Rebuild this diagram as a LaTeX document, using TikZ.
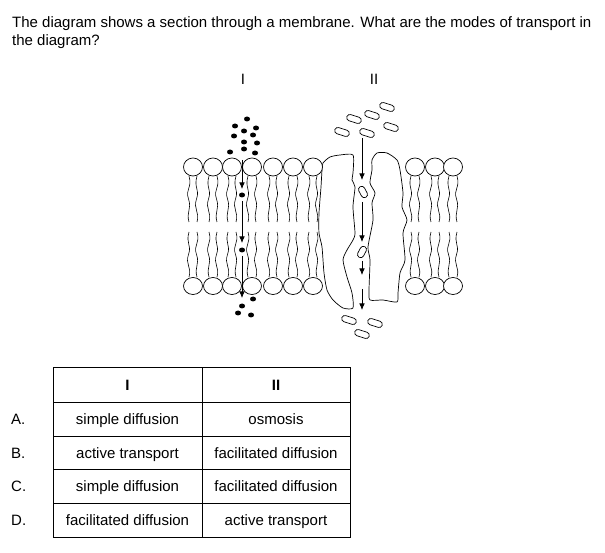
\documentclass[tikz,border=0pt]{standalone}
\usepackage{fontspec}
\setmainfont{Liberation Sans}
\usetikzlibrary{shapes.geometric, arrows.meta}
\newcommand{\qfont}{\fontsize{15}{18}\selectfont}
\tikzstyle{lipidhead} = [draw=black, fill=white, line width=0.7pt]
\tikzstyle{tail} = [draw=black, line width=0.6pt]
\tikzstyle{protein} = [draw=black, fill=white, line width=0.7pt, line join=round]
\tikzstyle{solute} = [draw=black, fill=white, line width=0.7pt, rounded corners=3.1pt]
\tikzstyle{ion} = [fill=black]
\tikzstyle{qtext} = [anchor=base west, inner sep=0pt, font=\qfont]
\tikzstyle{cell} = [anchor=base, inner sep=0pt, font=\qfont]
\tikzstyle{line} = [draw, line width=0.7pt, -{Latex[length=6.5pt,width=5.5pt]}]
% x, top, bottom, wiggle sign
\newcommand{\lipidtail}[4]{%
  \draw[tail] (#1,#2) .. controls +(#4*3.5,12) and +(-#4*3.5,-10) .. (#1-0.5,{(#2+#3)/2})
    .. controls +(#4*3.5,10) and +(-#4*3,-10) .. (#1,#3);}
% x, y, clockwise tilt, half length
\newcommand{\molecule}[4]{%
  \draw[solute, shift={(#1,#2)}, rotate=-#3] (-#4,-3.2) rectangle (#4,3.2);}

\begin{document}
\begin{tikzpicture}[x=1pt, y=-1pt]
  \useasboundingbox (0,0) rectangle (605,553);
  % question
  \node [qtext] (q1) at (12,28)
   {The diagram shows a section through a membrane. What are the modes of transport in};
  \node [qtext] (q2) at (12,46) {the diagram?};
  \node [cell] (lI) at (243,85) {I};
  \node [cell] (lII) at (374,85) {II};
  %
  % lipid tails
  \foreach \x/\s in {193/1,213/-1,232/1,252/-1,273/1,293/-1,313/1,415/-1,435/1,453/-1} {
    \lipidtail{\x-4}{176}{222}{\s}
    \lipidtail{\x+4}{176}{222}{-\s}
    \lipidtail{\x-4}{232}{277}{-\s}
    \lipidtail{\x+4}{232}{277}{\s}
  }
  % channel proteins
  \draw [protein] plot [smooth cycle, tension=0.4] coordinates {
    (323,163) (330,157) (340,155) (353,155) (353,173) (352,180) (355,187)
    (353,207) (355,233) (353,240) (347,250) (343,260) (347,277) (352,293)
    (353,308) (343,308) (333,300) (327,290) (324,273) (322,247) (319,233)
    (319,213) (321,187) (322,170)};
  \draw [protein] plot [smooth cycle, tension=0.4] coordinates {
    (372,160) (377,153) (387,153) (397,160) (400,170) (403,193) (402,207)
    (407,220) (403,233) (405,260) (400,273) (398,293) (397,302) (383,300)
    (370,300) (369,290) (370,260) (368,247) (373,220) (372,203) (375,193)
    (370,183) (372,170)};
  % lipid heads
  \foreach \x in {193,213,232,252,273,293,313,415,435,453} {
    \draw [lipidhead] (\x,167) ellipse (9.5 and 9);
    \draw [lipidhead] (\x,286) ellipse (9.5 and 8.5);
  }
  %
  % I: small particles
  \foreach \p in {(247,119),(235,126),(256,128),(244,131),(234,136),(253,135),
    (244,142),(257,143),(230,152),(244,149),(255,153),(242,195),(242,250),
    (253,299),(242,306),(238,313),(251,315)}
    \fill [ion] \p ellipse (3 and 2.5);
  \coordinate (i1) at (242,160);
  \coordinate (i2) at (242,189);
  \coordinate (i3) at (242,201);
  \coordinate (i4) at (242,243);
  \coordinate (i5) at (242,256);
  \coordinate (i6) at (242,298);
  \path [line] (i1) -- (i2);
  \path [line] (i3) -- (i4);
  \path [line] (i5) -- (i6);
  %
  % II: molecules through the channel
  \molecule{342}{132}{18}{7.5}
  \molecule{354}{119}{18}{7.5}
  \molecule{372}{115}{18}{7.5}
  \molecule{387}{107}{18}{7.5}
  \molecule{367}{133}{18}{7.5}
  \molecule{391}{127}{18}{7.5}
  \molecule{363}{192}{62}{6}
  \molecule{362}{252}{-62}{6}
  \molecule{349}{320}{18}{7.5}
  \molecule{375}{323}{18}{7.5}
  \molecule{362}{334}{18}{7.5}
  \coordinate (c1) at (362,138);
  \coordinate (c2) at (362,180);
  \coordinate (c3) at (362,202);
  \coordinate (c4) at (362,242);
  \coordinate (c5) at (362,261);
  \coordinate (c6) at (362,275);
  \coordinate (c7) at (362,289);
  \coordinate (c8) at (362,310);
  \path [line] (c1) -- (c2);
  \path [line] (c3) -- (c4);
  \path [line] (c5) -- (c6);
  \path [line] (c7) -- (c8);
  %
  % answer table
  \draw [line width=0.7pt] (53,367) rectangle (350,537);
  \draw [line width=0.7pt] (202,367) -- (202,537);
  \foreach \y in {402,436,469,503}
    \draw [line width=0.7pt] (53,\y) -- (350,\y);
  \node [cell] (hI) at (127.5,390) {\bfseries I};
  \node [cell] (hII) at (276,390) {\bfseries II};
  \node [qtext] (rA) at (11,424.5) {A.};
  \node [qtext] (rB) at (11,458) {B.};
  \node [qtext] (rC) at (11,491.5) {C.};
  \node [qtext] (rD) at (11,525.5) {D.};
  \node [cell] (a1) at (127.5,424.5) {simple diffusion};
  \node [cell] (a2) at (276,424.5) {osmosis};
  \node [cell] (b1) at (127.5,458) {active transport};
  \node [cell] (b2) at (276,458) {facilitated diffusion};
  \node [cell] (c1t) at (127.5,491.5) {simple diffusion};
  \node [cell] (c2t) at (276,491.5) {facilitated diffusion};
  \node [cell] (d1) at (127.5,525.5) {facilitated diffusion};
  \node [cell] (d2) at (276,525.5) {active transport};
\end{tikzpicture}
\end{document}
